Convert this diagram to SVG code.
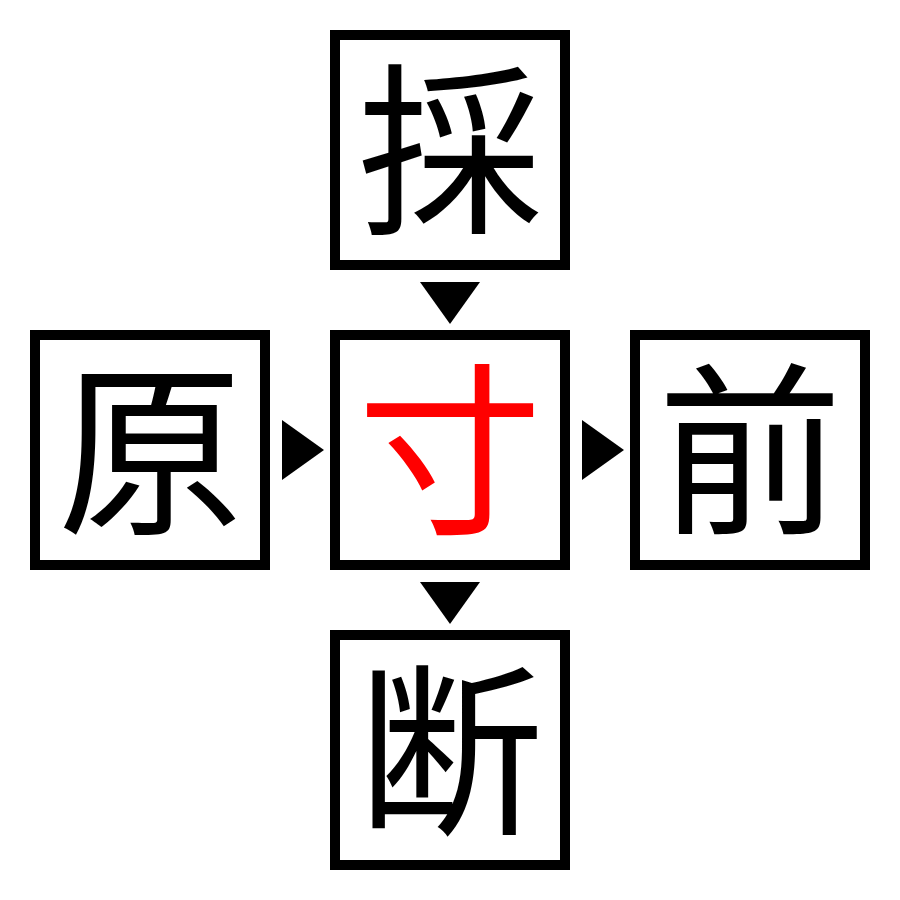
<svg xmlns="http://www.w3.org/2000/svg" width="900" height="900" viewBox="0 0 900 900">
<style>
.box{fill:#fff;stroke:#000;stroke-width:10}
.ch{font-family:"Noto Sans CJK JP","Noto Sans CJK SC",sans-serif;font-size:185px;text-anchor:middle;fill:#000}
.red{fill:#ff0000}
.arr{fill:#000}
</style>
<rect width="900" height="900" fill="#fff"/>
<g id="connectors">
<polygon class="arr" points="420,282 480,282 450,324"/>
<polygon class="arr" points="420,582 480,582 450,624"/>
<polygon class="arr" points="282,420 282,480 324,450"/>
<polygon class="arr" points="582,420 582,480 624,450"/>
</g>
<g id="node-top"><rect class="box" x="335" y="35" width="230" height="230"/><text class="ch" x="450" y="220">採</text></g>
<g id="node-left"><rect class="box" x="35" y="335" width="230" height="230"/><text class="ch" x="150" y="520">原</text></g>
<g id="node-center"><rect class="box" x="335" y="335" width="230" height="230"/><text class="ch red" x="450" y="520">寸</text></g>
<g id="node-right"><rect class="box" x="635" y="335" width="230" height="230"/><text class="ch" x="750" y="520">前</text></g>
<g id="node-bottom"><rect class="box" x="335" y="635" width="230" height="230"/><text class="ch" x="450" y="820">断</text></g>
</svg>
